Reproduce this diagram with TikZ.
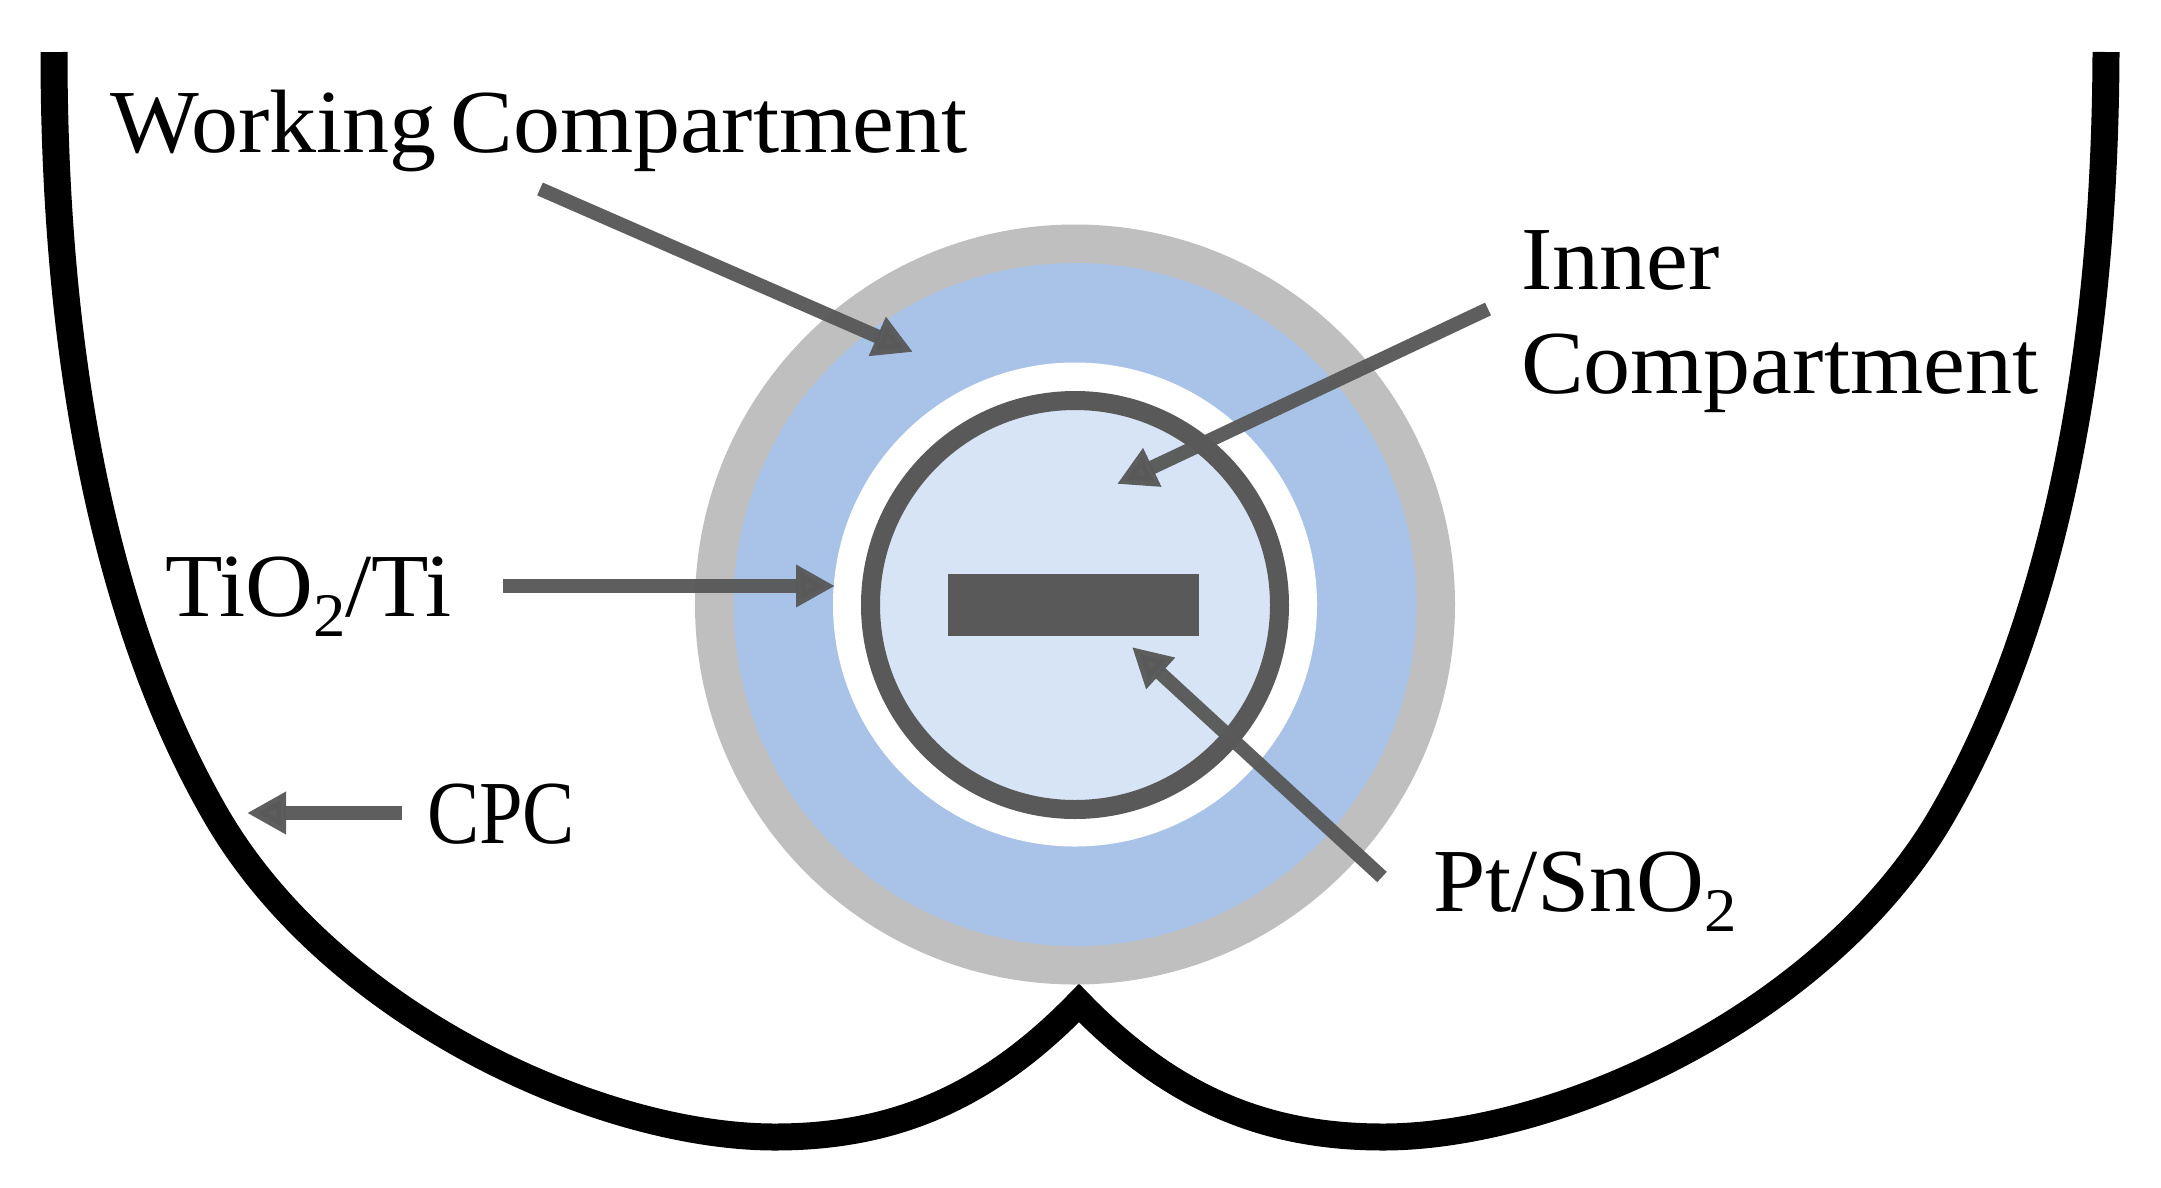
\documentclass[tikz,border=0pt]{standalone}
\usepackage{fontspec}
\setmainfont{Liberation Serif}[FakeStretch=1.045]
\newfontfamily\narrowcaps{Liberation Serif}[FakeStretch=.87]
\usetikzlibrary{arrows.meta}
\newcommand{\subtwo}{\raisebox{-20pt}{\fontsize{62}{62}\selectfont 2}}
\definecolor{shellgray}{HTML}{BFBFBF}
\definecolor{workblue}{HTML}{A9C3E8}
\definecolor{innerblue}{HTML}{D7E4F5}
\definecolor{darkgray}{HTML}{595959}
\tikzset{
  x=1pt,y=-1pt,
  lab/.style={anchor=base west,inner sep=0pt,outer sep=0pt,font=\fontsize{90}{103}\selectfont,text=black},
  pointer/.style={draw=darkgray,line width=14pt,-{Triangle[length=39pt,width=40pt]},draw opacity=.97,fill opacity=.97},
  reflector/.style={draw=black,line width=27pt,line join=miter,miter limit=10},
  disc/.style={circle,inner sep=0pt,outer sep=0pt,minimum size=#1}
}
\begin{document}
\begin{tikzpicture}
\useasboundingbox (0,0) rectangle (2161,1187);
\fill[white] (0,0) rectangle (2161,1187);
% reflector
\draw[reflector] (54,52) .. controls (54,351) and (103,622) .. (217.6,818)
  .. controls (334,1016) and (600,1137) .. (775,1137)
  .. controls (890,1137) and (985,1100) .. (1079,1003)
  .. controls (1173,1100) and (1268,1137) .. (1383,1137)
  .. controls (1558,1137) and (1824,1016) .. (1940.4,818)
  .. controls (2055,622) and (2105,351) .. (2106,52);
% tube
\node[disc=760pt,fill=shellgray] (shell) at (1075,604.5) {};
\node[disc=683pt,fill=workblue] (working) at (1075,604.5) {};
\node[disc=484pt,fill=white] (gap) at (1075,604.5) {};
\node[disc=409pt,fill=innerblue,draw=darkgray,line width=19pt] (inner) at (1075,605) {};
\node[fill=darkgray,minimum width=251pt,minimum height=62.5pt,inner sep=0pt,outer sep=0pt] (electrode) at (1073.5,604.8) {};
% labels
\node[lab] (lworking) at (110,152) {Working\hspace{13.5pt}Compartment};
\node[lab] (linner1) at (1521,289) {Inner};
\node[lab] (linner2) at (1521,393) {Compartment};
\node[lab] (ltio) at (165,616) {TiO\subtwo/Ti};
\node[lab] (lcpc) at (427,843) {\narrowcaps CPC};
\node[lab] (lpt) at (1433,911) {Pt/SnO\subtwo};
% pointer ends
\coordinate (a1) at (540,189); \coordinate (a2) at (913,352);
\coordinate (b1) at (1488,309); \coordinate (b2) at (1117,484);
\coordinate (c1) at (503,586); \coordinate (c2) at (835,586);
\coordinate (d1) at (1382,877); \coordinate (d2) at (1132,647);
\coordinate (e1) at (402,813); \coordinate (e2) at (247,813);
\draw[pointer] (a1) -- (a2);
\draw[pointer] (b1) -- (b2);
\draw[pointer] (c1) -- (c2);
\draw[pointer] (d1) -- (d2);
\draw[pointer] (e1) -- (e2);
\end{tikzpicture}
\end{document}
